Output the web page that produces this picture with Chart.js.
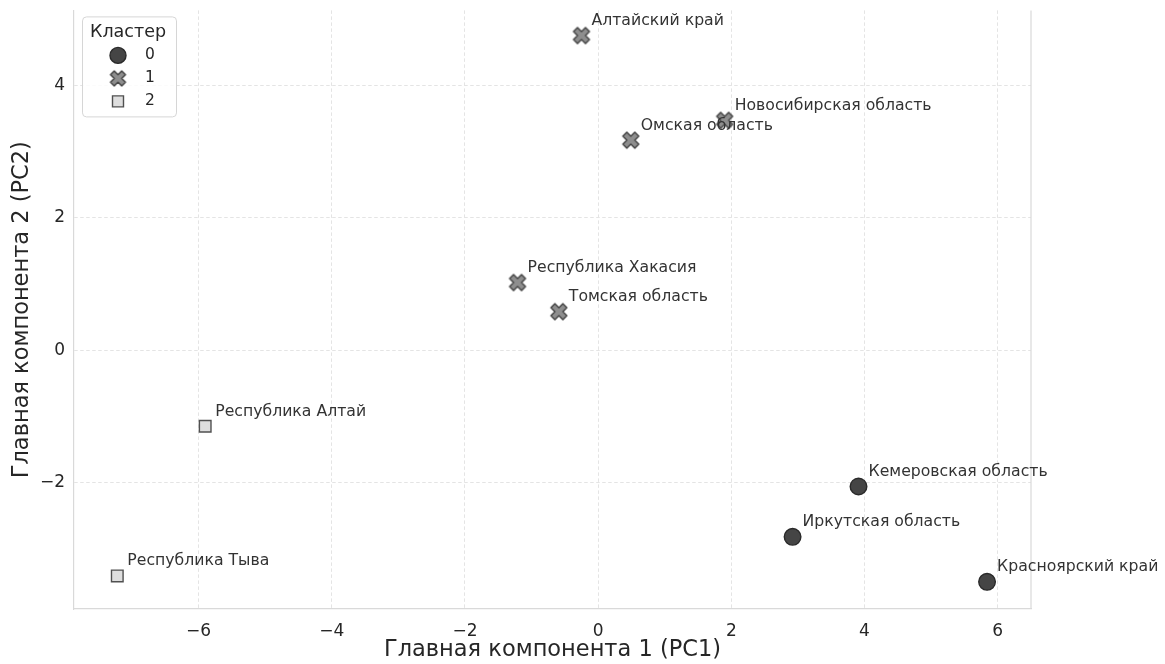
<!DOCTYPE html>
<html>
<head>
<meta charset="utf-8">
<script src="https://cdn.jsdelivr.net/npm/chart.js@4.4.1/dist/chart.umd.min.js"></script>
<style>
  html, body { margin: 0; padding: 0; background: #ffffff; }
  #wrap { width: 1165px; height: 664px; position: relative; }
</style>
</head>
<body>
<div id="wrap"><canvas id="pca"></canvas></div>
<script>
// Cluster names shown in the legend
const clusterNames = ['0', '1', '2'];

// Cluster 0
const regions0 = ['Кемеровская область', 'Иркутская область', 'Красноярский край'];
const pc1_0 = [3.91, 2.92, 5.84];
const pc2_0 = [-2.06, -2.82, -3.50];

// Cluster 1
const regions1 = ['Алтайский край', 'Новосибирская область', 'Омская область', 'Республика Хакасия', 'Томская область'];
const pc1_1 = [-0.25, 1.90, 0.49, -1.21, -0.59];
const pc2_1 = [4.75, 3.47, 3.17, 1.02, 0.58];

// Cluster 2
const regions2 = ['Республика Алтай', 'Республика Тыва'];
const pc1_2 = [-5.90, -7.22];
const pc2_2 = [-1.15, -3.41];

const xTicks = [-6, -4, -2, 0, 2, 4, 6];
const yTicks = [-2, 0, 2, 4];

const FONT = '"DejaVu Sans", "Liberation Sans", sans-serif';

// Filled "X" marker sprite
function makeXMarker(size, fill, stroke, lw) {
  const pad = 2;
  const c = document.createElement('canvas');
  c.width = size + pad * 2;
  c.height = size + pad * 2;
  const g = c.getContext('2d');
  const s = size;
  const cx = c.width / 2, cy = c.height / 2;
  const pts = [
    [0.25, 0], [0.5, 0.25], [0.25, 0.5], [0, 0.25], [-0.25, 0.5], [-0.5, 0.25],
    [-0.25, 0], [-0.5, -0.25], [-0.25, -0.5], [0, -0.25], [0.25, -0.5], [0.5, -0.25]
  ];
  g.beginPath();
  pts.forEach((p, i) => {
    const px = cx + p[0] * s, py = cy + p[1] * s;
    if (i === 0) g.moveTo(px, py); else g.lineTo(px, py);
  });
  g.closePath();
  g.fillStyle = fill;
  g.fill();
  g.lineJoin = 'round';
  g.lineWidth = lw;
  g.strokeStyle = stroke;
  g.stroke();
  return c;
}

const styles = [
  { pointStyle: 'circle', radius: 8.3, bg: '#454545', border: '#2a2a2a', bw: 1.4 },
  { pointStyle: makeXMarker(16, '#8e8e8e', '#404040', 1.4), radius: 9, bg: '#8e8e8e', border: '#404040', bw: 1.4 },
  { pointStyle: 'rect', radius: 8.2, bg: '#dedede', border: '#505050', bw: 1.4 }
];

function toPoints(xs, ys, names) {
  return xs.map((x, i) => ({ x: x, y: ys[i], name: names[i] }));
}

const groups = [
  toPoints(pc1_0, pc2_0, regions0),
  toPoints(pc1_1, pc2_1, regions1),
  toPoints(pc1_2, pc2_2, regions2)
];

const datasets = groups.map((pts, k) => ({
  label: clusterNames[k],
  data: pts,
  pointStyle: styles[k].pointStyle,
  pointRadius: styles[k].radius,
  pointHoverRadius: styles[k].radius,
  backgroundColor: styles[k].bg,
  borderColor: styles[k].border,
  borderWidth: styles[k].bw
}));

// Right-hand frame line of the plot area
const rightSpine = {
  id: 'rightSpine',
  beforeDatasetsDraw(chart) {
    const { ctx, chartArea } = chart;
    ctx.save();
    ctx.strokeStyle = '#d9d9d9';
    ctx.lineWidth = 1.2;
    ctx.beginPath();
    ctx.moveTo(chartArea.right, chartArea.top);
    ctx.lineTo(chartArea.right, chartArea.bottom);
    ctx.stroke();
    ctx.restore();
  }
};

// Region names next to each point
const pointLabels = {
  id: 'pointLabels',
  afterDatasetsDraw(chart) {
    const ctx = chart.ctx;
    ctx.save();
    ctx.font = '15.7px ' + FONT;
    ctx.fillStyle = '#333333';
    ctx.textAlign = 'left';
    ctx.textBaseline = 'middle';
    chart.data.datasets.forEach((ds, di) => {
      const meta = chart.getDatasetMeta(di);
      meta.data.forEach((el, i) => {
        ctx.fillText(ds.data[i].name, el.x + 10, el.y - 14.5);
      });
    });
    ctx.restore();
  }
};

// Legend box in the upper-left corner of the plot
const clusterLegend = {
  id: 'clusterLegend',
  afterDraw(chart) {
    const ctx = chart.ctx;
    const area = chart.chartArea;
    const bx = area.left + 8, by = area.top + 6, bw = 94, bh = 100;
    ctx.save();
    ctx.beginPath();
    ctx.roundRect(bx + 0.5, by + 0.5, bw, bh, 4);
    ctx.fillStyle = 'rgba(255,255,255,0.85)';
    ctx.fill();
    ctx.strokeStyle = '#d6d6d6';
    ctx.lineWidth = 1;
    ctx.stroke();

    ctx.fillStyle = '#262626';
    ctx.font = '17.5px ' + FONT;
    ctx.textAlign = 'center';
    ctx.textBaseline = 'middle';
    ctx.fillText('Кластер', bx + 46, by + 16);

    ctx.font = '15.5px ' + FONT;
    ctx.textAlign = 'left';
    clusterNames.forEach((name, k) => {
      const my = by + 39 + k * 23;
      const mx = bx + 36;
      const st = styles[k];
      if (k === 1) {
        const img = makeXMarker(15, st.bg, st.border, 1.4);
        ctx.drawImage(img, mx - img.width / 2, my - img.height / 2);
      } else {
        ctx.fillStyle = st.bg;
        ctx.strokeStyle = st.border;
        ctx.lineWidth = st.bw;
        ctx.beginPath();
        if (k === 0) {
          ctx.arc(mx, my, 8, 0, Math.PI * 2);
        } else {
          ctx.rect(mx - 5.5, my - 5.5, 11, 11);
        }
        ctx.fill();
        ctx.stroke();
      }
      ctx.fillStyle = '#262626';
      ctx.fillText(name, bx + 63, my);
    });
    ctx.restore();
  }
};

const gridOpts = { color: '#e4e4e4', lineWidth: 1, drawTicks: false };
const borderOpts = { display: true, color: '#d9d9d9', width: 1.2, dash: [3.5, 2.5] };

new Chart(document.getElementById('pca'), {
  type: 'scatter',
  data: { datasets: datasets },
  plugins: [rightSpine, pointLabels, clusterLegend],
  options: {
    responsive: true,
    maintainAspectRatio: false,
    animation: false,
    events: [],
    layout: { padding: { left: 0, top: 7, right: 134, bottom: 0 } },
    plugins: {
      legend: { display: false },
      tooltip: { enabled: false }
    },
    scales: {
      x: {
        type: 'linear',
        min: -7.87,
        max: 6.50,
        afterFit(scale) { scale.height = 55; scale.paddingLeft = 0; scale.paddingRight = 0; },
        afterBuildTicks(scale) { scale.ticks = xTicks.map(v => ({ value: v })); },
        border: borderOpts,
        grid: gridOpts,
        ticks: {
          padding: 12,
          color: '#262626',
          font: { family: FONT, size: 17 },
          callback: v => String(v).replace('-', '\u2212')
        },
        title: {
          display: true,
          text: 'Главная компонента 1 (PC1)',
          color: '#262626',
          font: { family: FONT, size: 22.5 },
          padding: { top: 0, bottom: 0.5 }
        }
      },
      y: {
        type: 'linear',
        min: -3.91,
        max: 5.13,
        afterFit(scale) { scale.width = 74; scale.paddingTop = 0; scale.paddingBottom = 0; },
        afterBuildTicks(scale) { scale.ticks = yTicks.map(v => ({ value: v })); },
        border: borderOpts,
        grid: gridOpts,
        ticks: {
          padding: 9,
          color: '#262626',
          font: { family: FONT, size: 17 },
          callback: v => String(v).replace('-', '\u2212')
        },
        title: {
          display: true,
          text: 'Главная компонента 2 (PC2)',
          color: '#262626',
          font: { family: FONT, size: 22.5 },
          padding: { top: 8.5, bottom: 0 }
        }
      }
    }
  }
});
</script>
</body>
</html>
